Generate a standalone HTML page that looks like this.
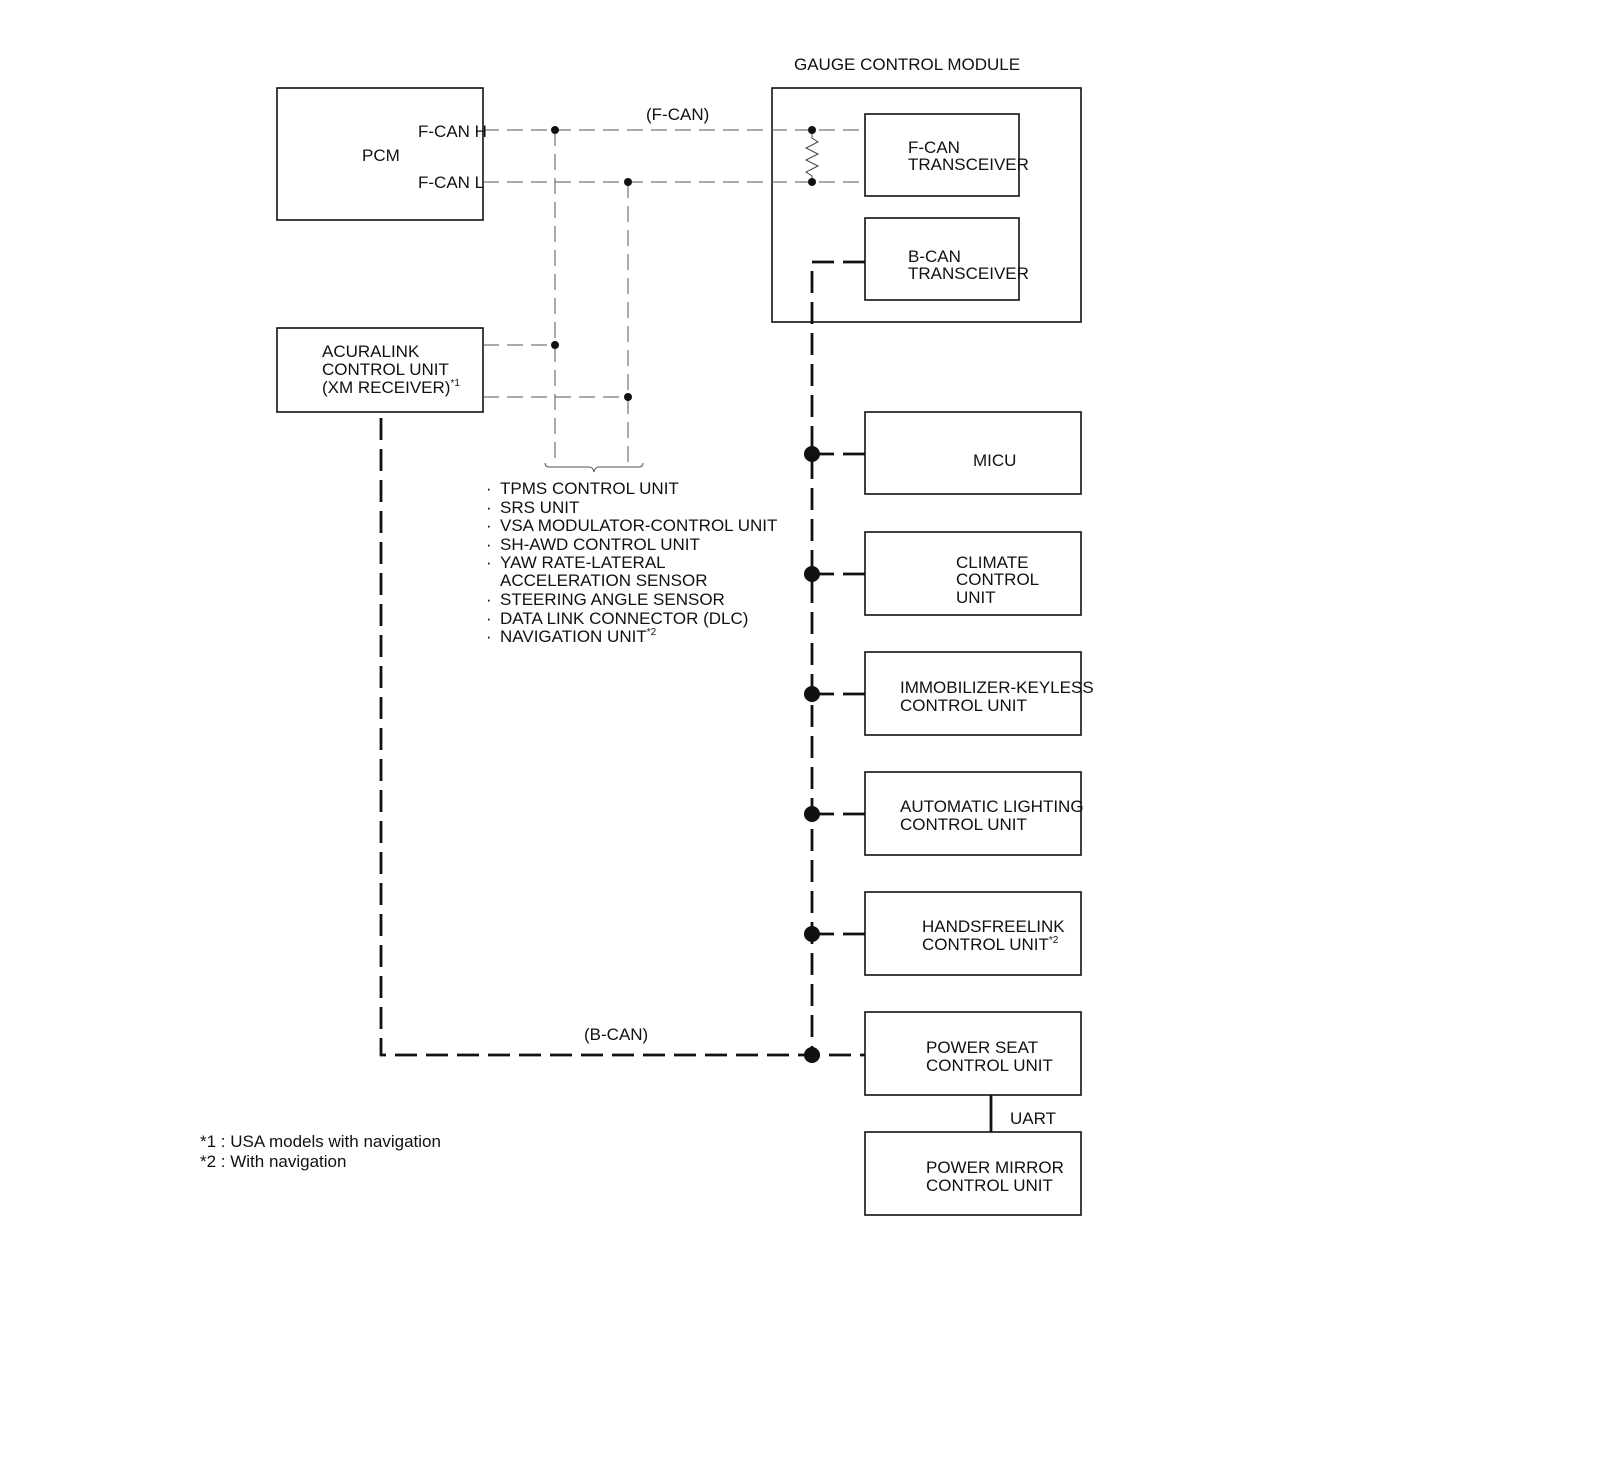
<!DOCTYPE html>
<html><head><meta charset="utf-8"><style>
body{margin:0;background:#fff}
svg{display:block}
text{font-family:"Liberation Sans",sans-serif;font-size:17px;fill:#111}
</style></head><body>
<svg width="1600" height="1471" viewBox="0 0 1600 1471" xmlns="http://www.w3.org/2000/svg">
<g fill="none" stroke="#111" stroke-width="1.6">
<rect x="277" y="88" width="206" height="132"/>
<rect x="277" y="328" width="206" height="84"/>
<rect x="772" y="88" width="309" height="234"/>
<rect x="865" y="114" width="154" height="82"/>
<rect x="865" y="218" width="154" height="82"/>
<rect x="865" y="412" width="216" height="82"/>
<rect x="865" y="532" width="216" height="83"/>
<rect x="865" y="652" width="216" height="83"/>
<rect x="865" y="772" width="216" height="83"/>
<rect x="865" y="892" width="216" height="83"/>
<rect x="865" y="1012" width="216" height="83"/>
<rect x="865" y="1132" width="216" height="83"/>
</g>
<g fill="none" stroke="#555" stroke-width="1" stroke-dasharray="16,8">
<line x1="483" y1="130" x2="865" y2="130"/>
<line x1="483" y1="182" x2="865" y2="182"/>
<line x1="483" y1="345" x2="555" y2="345"/>
<line x1="483" y1="397" x2="628" y2="397"/>
<line x1="555" y1="130" x2="555" y2="462"/>
<line x1="628" y1="182" x2="628" y2="462"/>
</g>
<path d="M545 463 q0 4 4 4 h40 q4 0 5 5 q1 -5 5 -5 h40 q4 0 4 -4" fill="none" stroke="#555" stroke-width="1"/>
<polyline points="812,130 812,138 818,142 806,148 818,154 806,160 818,166 806,172 812,176 812,182" fill="none" stroke="#444" stroke-width="1"/>
<g fill="#111">
<circle cx="555" cy="130" r="4"/><circle cx="628" cy="182" r="4"/>
<circle cx="812" cy="130" r="4"/><circle cx="812" cy="182" r="4"/>
<circle cx="555" cy="345" r="4"/><circle cx="628" cy="397" r="4"/>
<circle cx="812" cy="454" r="8"/><circle cx="812" cy="574" r="8"/><circle cx="812" cy="694" r="8"/>
<circle cx="812" cy="814" r="8"/><circle cx="812" cy="934" r="8"/><circle cx="812" cy="1055" r="8"/>
</g>
<g fill="none" stroke="#111" stroke-width="2.8" stroke-dasharray="22,9">
<polyline points="865,262 812,262 812,1055"/>
<polyline points="381,418 381,1055 865,1055"/>
<line x1="812" y1="454" x2="865" y2="454"/>
<line x1="812" y1="574" x2="865" y2="574"/>
<line x1="812" y1="694" x2="865" y2="694"/>
<line x1="812" y1="814" x2="865" y2="814"/>
<line x1="812" y1="934" x2="865" y2="934"/>
</g>
<line x1="991" y1="1095" x2="991" y2="1132" stroke="#111" stroke-width="2.8"/>
<text x="794" y="70">GAUGE CONTROL MODULE</text>
<text x="646" y="120">(F-CAN)</text>
<text x="418" y="137">F-CAN H</text>
<text x="418" y="188">F-CAN L</text>
<text x="362" y="161">PCM</text>
<text x="908" y="153">F-CAN</text><text x="908" y="170">TRANSCEIVER</text>
<text x="908" y="262">B-CAN</text><text x="908" y="279">TRANSCEIVER</text>
<text x="322" y="357">ACURALINK</text><text x="322" y="375">CONTROL UNIT</text><text x="322" y="393">(XM RECEIVER)<tspan font-size="10" dy="-7">*1</tspan></text>
<text x="486" y="494">·</text><text x="500" y="494">TPMS CONTROL UNIT</text>
<text x="486" y="513">·</text><text x="500" y="513">SRS UNIT</text>
<text x="486" y="531">·</text><text x="500" y="531">VSA MODULATOR-CONTROL UNIT</text>
<text x="486" y="550">·</text><text x="500" y="550">SH-AWD CONTROL UNIT</text>
<text x="486" y="568">·</text><text x="500" y="568">YAW RATE-LATERAL</text>
<text x="500" y="586">ACCELERATION SENSOR</text>
<text x="486" y="605">·</text><text x="500" y="605">STEERING ANGLE SENSOR</text>
<text x="486" y="624">·</text><text x="500" y="624">DATA LINK CONNECTOR (DLC)</text>
<text x="486" y="642">·</text><text x="500" y="642">NAVIGATION UNIT<tspan font-size="10" dy="-7">*2</tspan></text>
<text x="973" y="466">MICU</text>
<text x="956" y="568">CLIMATE</text><text x="956" y="585">CONTROL</text><text x="956" y="603">UNIT</text>
<text x="900" y="693">IMMOBILIZER-KEYLESS</text><text x="900" y="711">CONTROL UNIT</text>
<text x="900" y="812">AUTOMATIC LIGHTING</text><text x="900" y="830">CONTROL UNIT</text>
<text x="922" y="932">HANDSFREELINK</text><text x="922" y="950">CONTROL UNIT<tspan font-size="10" dy="-7">*2</tspan></text>
<text x="926" y="1053">POWER SEAT</text><text x="926" y="1071">CONTROL UNIT</text>
<text x="1010" y="1124">UART</text>
<text x="926" y="1173">POWER MIRROR</text><text x="926" y="1191">CONTROL UNIT</text>
<text x="584" y="1040">(B-CAN)</text>
<text x="200" y="1147">*1 : USA models with navigation</text>
<text x="200" y="1167">*2 : With navigation</text>
</svg>
</body></html>
